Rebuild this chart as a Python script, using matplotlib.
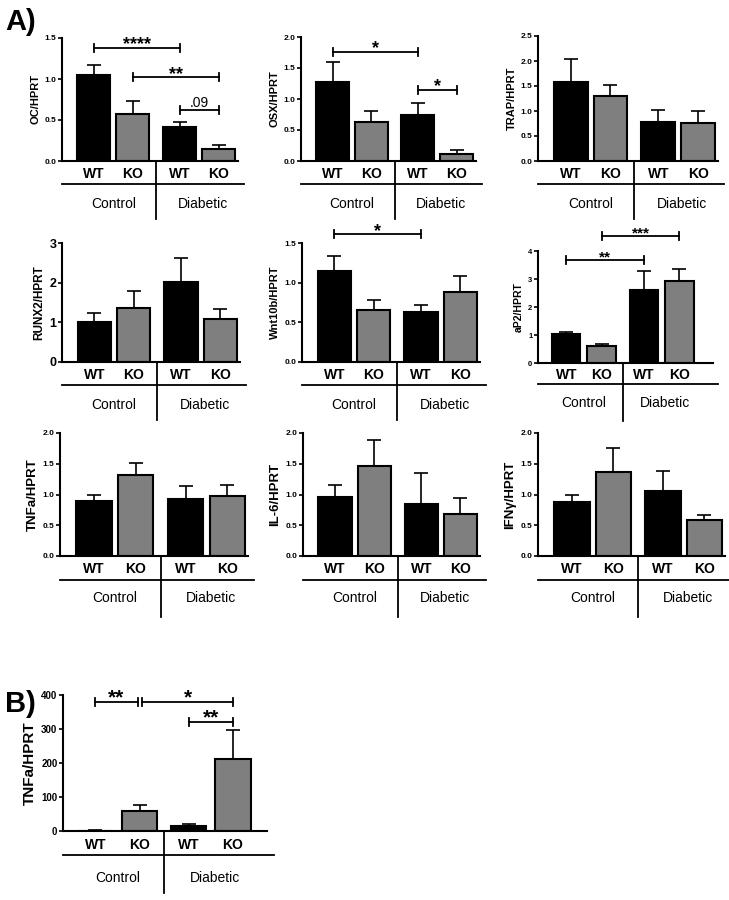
import numpy as np
from matplotlib import pyplot as plt

plt.rcParams['font.family'] = ['Liberation Sans', 'DejaVu Sans']

W, H = 729, 900

genotypes = ['WT', 'KO', 'WT', 'KO']
groups = ['Control', 'Diabetic']
bar_colors = ['black', '#7f7f7f', 'black', '#7f7f7f']

# values (mean, sem)
oc_mean = [1.05, 0.57, 0.41, 0.15]
oc_sem = [0.12, 0.16, 0.06, 0.04]
osx_mean = [1.28, 0.63, 0.74, 0.12]
osx_sem = [0.31, 0.17, 0.19, 0.06]
trap_mean = [1.58, 1.31, 0.79, 0.77]
trap_sem = [0.45, 0.21, 0.24, 0.24]
runx2_mean = [1.00, 1.35, 2.02, 1.08]
runx2_sem = [0.23, 0.44, 0.60, 0.26]
wnt_mean = [1.15, 0.65, 0.63, 0.88]
wnt_sem = [0.19, 0.13, 0.09, 0.20]
ap2_mean = [1.02, 0.60, 2.62, 2.92]
ap2_sem = [0.08, 0.07, 0.68, 0.45]
tnf_mean = [0.89, 1.31, 0.92, 0.98]
tnf_sem = [0.11, 0.21, 0.22, 0.18]
il6_mean = [0.96, 1.47, 0.85, 0.69]
il6_sem = [0.20, 0.42, 0.50, 0.25]
ifn_mean = [0.88, 1.36, 1.05, 0.58]
ifn_sem = [0.12, 0.39, 0.33, 0.08]
tnfb_mean = [1.0, 60, 15, 212]
tnfb_sem = [0.5, 17, 6, 84]

# significance brackets: (bar a, bar b, height, text)
oc_sig = [(0, 2, 1.38, '****'), (1, 3, 1.02, '**'), (2, 3, 0.62, '.09')]
osx_sig = [(0, 2, 1.76, '*'), (2, 3, 1.15, '*')]
wnt_sig = [(0, 2, 1.61, '*')]
ap2_sig = [(0, 2, 3.68, '**'), (1, 3, 4.54, '***')]
tnfb_sig = [(0, 0.95, 380, '**'), (1.05, 3, 380, '*'), (2, 3, 320, '**')]

fig = plt.figure(figsize=(W/100, H/100), dpi=100)


def panel(box, mean, sem, ylab, ymax, step, fmt, sig=(), pos=(0, 1, 2.2, 3.2),
          width=0.85, tick_fs=6, lab_fs=8, xlim=None, decal=(13, 23, 43, 58), star_fs=13):
    l, t, z, r = box
    hpx = z - t
    ax = fig.add_axes([l/W, 1 - z/H, (r - l)/W, hpx/H])
    pos = np.array(pos)
    ax.errorbar(pos, mean, yerr=[np.zeros(4), sem], fmt='none', ecolor='black',
                elinewidth=1.2, capsize=5, capthick=1.2, zorder=1)
    ax.bar(pos, mean, width, color=bar_colors, edgecolor='black', linewidth=1.5, zorder=2)
    if xlim is None:
        xlim = (-0.82, pos[-1] + 0.5)
    ax.set_xlim(*xlim)
    ax.set_ylim(0, ymax)
    ax.set_yticks(np.arange(0, ymax + step/2, step))
    ax.set_yticklabels([fmt.format(v) for v in np.arange(0, ymax + step/2, step)],
                       fontsize=tick_fs, fontweight='bold')
    ax.set_xticks([])
    ax.tick_params(axis='y', length=3, width=1.2, pad=1)
    for s in ['top', 'right']:
        ax.spines[s].set_visible(False)
    for s in ['left', 'bottom']:
        ax.spines[s].set_linewidth(1.5)
    ax.set_ylabel(ylab, fontsize=lab_fs, fontweight='bold', labelpad=3)

    # brackets
    tick = 4 / hpx * ymax
    for a, b, y, txt in sig:
        xa = np.interp(a, [0, 1, 2, 3], pos)
        xb = np.interp(b, [0, 1, 2, 3], pos)
        ax.plot([xa, xb], [y, y], color='black', lw=1.3, clip_on=False)
        ax.plot([xa, xa], [y - tick, y + tick], color='black', lw=1.3, clip_on=False)
        ax.plot([xb, xb], [y - tick, y + tick], color='black', lw=1.3, clip_on=False)
        if txt.startswith('.'):
            ax.annotate(txt, ((xa + xb) / 2, y), xytext=(0, 2), textcoords='offset points',
                        ha='center', va='baseline', fontsize=10, annotation_clip=False)
        else:
            ax.annotate(txt, ((xa + xb) / 2, y), xytext=(0, -1), textcoords='offset points',
                        ha='center', va='baseline', fontsize=star_fs, fontweight='bold',
                        annotation_clip=False)

    # genotype / group labels under the axis
    lab_px, line_px, grp_px, div_px = decal
    tr = ax.get_xaxis_transform()
    for p, g in zip(pos, genotypes):
        ax.text(p, -lab_px/hpx, g, transform=tr, ha='center', va='center',
                fontsize=10, fontweight='bold')
    ax.plot([xlim[0], xlim[1] + 0.15], [-line_px/hpx]*2, transform=tr, color='black',
            lw=1.3, clip_on=False)
    div = (pos[1] + pos[2]) / 2
    ax.plot([div, div], [0, -div_px/hpx], transform=tr, color='black', lw=1.3, clip_on=False)
    ax.text((pos[0] + pos[1]) / 2, -grp_px/hpx, groups[0], transform=tr, ha='center',
            va='center', fontsize=10)
    ax.text((pos[2] + pos[3]) / 2 + 0.1, -grp_px/hpx, groups[1], transform=tr, ha='center',
            va='center', fontsize=10)
    return ax


# row 1
panel((62, 38, 161, 238), oc_mean, oc_sem, 'OC/HPRT', 1.5, 0.5, '{:.1f}', oc_sig)
panel((301, 37, 161, 476), osx_mean, osx_sem, 'OSX/HPRT', 2.0, 0.5, '{:.1f}', osx_sig)
panel((538, 36, 161, 718), trap_mean, trap_sem, 'TRAP/HPRT', 2.5, 0.5, '{:.1f}')

# row 2
panel((62, 243, 362, 240), runx2_mean, runx2_sem, 'RUNX2/HPRT', 3, 1, '{:.0f}',
      tick_fs=9, lab_fs=8.5)
panel((302, 243, 362, 480), wnt_mean, wnt_sem, 'Wnt10b/HPRT', 1.5, 0.5, '{:.1f}', wnt_sig)
panel((538, 251, 363, 713), ap2_mean, ap2_sem, 'aP2/HPRT', 4, 1, '{:.0f}', ap2_sig,
      width=0.8, tick_fs=5.5, lab_fs=7.5, xlim=(-0.8, 4.15), decal=(12, 21, 40, 58), star_fs=11)

# row 3
panel((60, 433, 556, 248), tnf_mean, tnf_sem, 'TNFa/HPRT', 2.0, 0.5, '{:.1f}',
      lab_fs=9.5, decal=(13, 24, 42, 61))
panel((303, 433, 556, 480), il6_mean, il6_sem, 'IL-6/HPRT', 2.0, 0.5, '{:.1f}',
      lab_fs=9.5, decal=(13, 24, 42, 61))
panel((538, 433, 556, 725), ifn_mean, ifn_sem, 'IFN\u03b3/HPRT', 2.0, 0.5, '{:.1f}',
      lab_fs=9.5, decal=(13, 24, 42, 61))

# panel B
panel((63, 695, 831, 267), tnfb_mean, tnfb_sem, 'TNFa/HPRT', 400, 100, '{:.0f}', tnfb_sig,
      pos=(0, 1, 2.1, 3.1), width=0.8, tick_fs=7, lab_fs=11, xlim=(-0.73, 3.87),
      decal=(14, 24, 47, 62), star_fs=15)

fig.text(5/W, 1 - 22/H, 'A)', fontsize=21, fontweight='bold', va='center', ha='left')
fig.text(5/W, 1 - 704/H, 'B)', fontsize=21, fontweight='bold', va='center', ha='left')

fig.savefig('out.png', dpi=100)
